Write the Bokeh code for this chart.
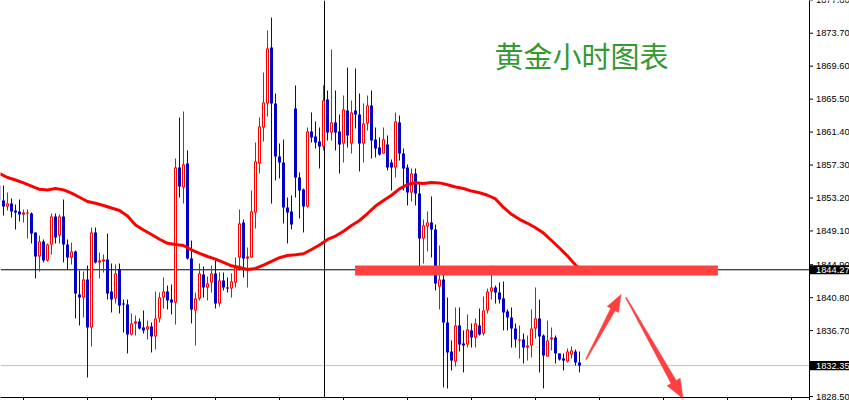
from bokeh.plotting import figure
from bokeh.models import ColumnDataSource, Label, Range1d
from bokeh.embed import file_html
from bokeh.resources import INLINE
from bokeh.core.properties import value

# ---------------- data ----------------
bar_index = list(range(-1, 145))

opens = [
    1854.75, 1852.89, 1852.14, 1852.51, 1851.65, 1851.52, 1851.15, 1851.27, 1851.27, 1848.91,
    1845.92, 1847.79, 1845.42, 1847.41, 1850.90, 1848.53, 1850.90, 1847.41, 1845.80, 1846.54,
    1841.20, 1840.82, 1843.06, 1837.09, 1848.91, 1845.18, 1845.30, 1845.55, 1841.57, 1840.70,
    1844.30, 1840.07, 1839.95, 1836.22, 1837.59, 1837.84, 1837.09, 1836.84, 1837.21, 1835.97,
    1838.21, 1840.82, 1841.57, 1840.57, 1840.20, 1856.99, 1854.51, 1857.49, 1845.67, 1839.20,
    1840.70, 1843.68, 1842.07, 1842.69, 1843.81, 1840.07, 1842.94, 1842.07, 1841.94, 1842.69,
    1845.80, 1850.15, 1845.67, 1845.80, 1851.40, 1857.49, 1861.97, 1864.96, 1871.92, 1864.96,
    1858.36, 1857.62, 1852.02, 1851.52, 1864.33, 1855.75, 1854.26, 1852.14, 1861.47, 1860.85,
    1860.23, 1859.61, 1865.45, 1861.35, 1862.59, 1861.47, 1859.98, 1864.09, 1859.98, 1864.09,
    1863.59, 1859.98, 1862.47, 1864.71, 1860.48, 1859.48, 1858.74, 1859.86, 1857.62, 1856.99,
    1862.59, 1858.74, 1856.99, 1853.88, 1856.25, 1853.76, 1848.16, 1849.65, 1850.15, 1849.28,
    1842.19, 1843.06, 1837.71, 1834.10, 1832.86, 1837.34, 1835.10, 1834.97, 1836.72, 1835.84,
    1837.34, 1836.34, 1839.20, 1841.57, 1842.07, 1841.44, 1840.70, 1839.08, 1838.33, 1836.96,
    1835.47, 1835.60, 1834.60, 1834.85, 1836.96, 1838.21, 1836.09, 1833.48, 1835.60, 1835.84,
    1833.86, 1833.23, 1832.86, 1833.73, 1834.10, 1832.73,
]
highs = [
    1856.25, 1854.75, 1853.88, 1853.14, 1852.39, 1853.01, 1851.77, 1851.77, 1851.40, 1848.91,
    1848.53, 1848.04, 1847.54, 1851.27, 1851.27, 1851.15, 1853.01, 1848.04, 1847.66, 1846.67,
    1844.18, 1844.06, 1844.80, 1849.53, 1849.53, 1846.42, 1846.17, 1848.78, 1845.05, 1844.93,
    1845.05, 1840.57, 1840.57, 1838.83, 1838.58, 1838.21, 1839.20, 1837.96, 1837.71, 1841.57,
    1841.44, 1843.31, 1842.31, 1842.44, 1858.11, 1863.21, 1863.96, 1859.11, 1847.91, 1841.44,
    1845.05, 1844.68, 1843.43, 1844.80, 1845.42, 1843.93, 1843.93, 1843.31, 1843.81, 1845.80,
    1851.77, 1850.52, 1847.04, 1854.13, 1860.10, 1863.21, 1868.81, 1874.04, 1875.65, 1866.20,
    1859.98, 1860.48, 1853.26, 1853.51, 1867.20, 1856.37, 1854.38, 1861.97, 1863.84, 1862.72,
    1861.97, 1867.20, 1866.57, 1871.67, 1866.57, 1863.59, 1865.95, 1869.43, 1865.33, 1869.31,
    1866.20, 1864.96, 1865.95, 1866.57, 1861.97, 1860.73, 1861.97, 1860.97, 1857.99, 1863.84,
    1863.46, 1859.36, 1857.37, 1856.87, 1856.87, 1855.00, 1850.52, 1851.52, 1853.39, 1849.90,
    1847.29, 1843.93, 1840.82, 1835.47, 1839.58, 1839.58, 1836.72, 1838.71, 1837.59, 1838.21,
    1839.45, 1840.95, 1841.94, 1844.80, 1842.31, 1842.69, 1842.81, 1839.33, 1839.58, 1837.59,
    1837.34, 1836.34, 1836.09, 1839.33, 1842.07, 1840.57, 1836.22, 1837.96, 1837.09, 1836.09,
    1833.86, 1833.86, 1834.48, 1834.73, 1834.35, 1834.10,
]
lows = [
    1852.27, 1851.02, 1851.65, 1850.77, 1849.28, 1850.28, 1850.15, 1848.16, 1847.54, 1843.19,
    1844.06, 1845.18, 1845.30, 1846.17, 1847.54, 1847.54, 1845.18, 1844.30, 1844.93, 1838.21,
    1837.34, 1838.33, 1830.87, 1834.73, 1845.05, 1843.19, 1843.93, 1840.57, 1838.96, 1840.07,
    1838.83, 1836.47, 1833.86, 1836.09, 1836.09, 1836.84, 1836.34, 1835.60, 1833.98, 1834.35,
    1837.71, 1839.45, 1839.33, 1838.71, 1837.46, 1853.26, 1852.51, 1845.55, 1837.59, 1834.85,
    1840.45, 1840.82, 1840.45, 1841.44, 1839.45, 1839.70, 1841.69, 1841.44, 1840.82, 1842.07,
    1844.18, 1843.31, 1842.07, 1845.80, 1849.40, 1856.25, 1860.23, 1863.34, 1852.51, 1855.38,
    1855.63, 1850.03, 1847.54, 1849.28, 1853.26, 1850.65, 1848.91, 1852.02, 1860.10, 1859.36,
    1856.87, 1859.11, 1860.35, 1860.35, 1859.11, 1856.25, 1857.62, 1859.48, 1858.74, 1861.85,
    1856.50, 1857.62, 1861.60, 1858.11, 1858.24, 1858.49, 1858.74, 1856.62, 1854.13, 1855.75,
    1857.86, 1854.13, 1852.27, 1852.76, 1852.27, 1844.55, 1845.05, 1846.54, 1845.80, 1841.69,
    1839.33, 1829.63, 1829.50, 1831.74, 1832.24, 1834.10, 1831.49, 1834.60, 1834.60, 1834.60,
    1836.09, 1836.09, 1838.83, 1840.57, 1840.07, 1840.07, 1836.72, 1836.72, 1834.60, 1834.60,
    1833.23, 1832.61, 1832.98, 1833.36, 1835.72, 1831.49, 1829.50, 1833.48, 1834.23, 1832.61,
    1832.98, 1831.74, 1832.73, 1833.23, 1832.36, 1831.49,
]
closes = [
    1852.89, 1852.14, 1852.51, 1851.52, 1851.40, 1851.15, 1851.40, 1851.40, 1848.78, 1845.92,
    1847.79, 1845.42, 1847.41, 1850.90, 1848.29, 1850.90, 1847.41, 1845.80, 1846.54, 1841.32,
    1840.82, 1843.06, 1837.09, 1848.91, 1845.18, 1845.42, 1845.55, 1841.32, 1840.57, 1843.81,
    1839.83, 1839.95, 1836.22, 1837.59, 1837.84, 1836.96, 1836.72, 1837.21, 1835.97, 1838.21,
    1840.82, 1841.57, 1840.45, 1840.20, 1856.99, 1854.63, 1857.37, 1845.67, 1839.33, 1840.70,
    1843.81, 1842.07, 1842.56, 1843.81, 1840.07, 1842.94, 1842.07, 1841.94, 1842.81, 1844.55,
    1850.03, 1845.67, 1845.92, 1851.52, 1857.74, 1862.09, 1865.08, 1871.80, 1864.96, 1858.36,
    1857.62, 1852.02, 1851.40, 1849.90, 1855.75, 1854.13, 1852.14, 1861.47, 1860.73, 1860.10,
    1859.61, 1865.33, 1861.35, 1862.59, 1861.35, 1859.86, 1864.21, 1860.97, 1863.84, 1863.59,
    1859.98, 1862.47, 1864.71, 1860.35, 1859.36, 1858.61, 1860.48, 1856.99, 1856.99, 1862.72,
    1858.74, 1856.87, 1853.88, 1856.25, 1853.76, 1848.16, 1849.78, 1850.15, 1849.28, 1842.56,
    1843.06, 1837.71, 1833.98, 1832.98, 1837.34, 1834.97, 1834.85, 1836.84, 1835.84, 1837.59,
    1836.22, 1839.20, 1841.57, 1842.07, 1841.44, 1840.57, 1838.96, 1838.33, 1836.96, 1835.60,
    1835.60, 1834.60, 1834.85, 1836.96, 1838.21, 1835.97, 1833.61, 1835.47, 1835.84, 1833.86,
    1833.11, 1832.98, 1834.10, 1834.23, 1832.73, 1832.35,
]

ma_index = list(range(-1, 144, 2)) + [144]
ma_values = [
    1856.25, 1855.75, 1855.44, 1855.08, 1854.68, 1854.28, 1854.19, 1854.38, 1854.21, 1853.80,
    1853.29, 1852.76, 1852.55, 1852.27, 1851.96, 1851.65, 1850.96, 1849.85, 1849.22, 1848.66,
    1848.07, 1847.56, 1847.41, 1847.29, 1846.75, 1846.32, 1845.92, 1845.59, 1845.20, 1844.76,
    1844.55, 1844.30, 1844.43, 1844.86, 1845.32, 1845.77, 1846.05, 1846.15, 1846.26, 1846.79,
    1847.36, 1848.04, 1848.47, 1849.07, 1849.78, 1850.40, 1851.27, 1852.20, 1852.90, 1853.54,
    1854.33, 1854.88, 1855.10, 1855.00, 1855.13, 1855.08, 1854.84, 1854.57, 1854.38, 1854.06,
    1853.85, 1853.54, 1853.08, 1852.02, 1851.17, 1850.55, 1850.05, 1849.49, 1848.83, 1847.91,
    1846.98, 1845.98, 1844.85, 1844.50,
]

price_ticks = [1828.50, 1836.70, 1840.80, 1844.90, 1849.10, 1853.20, 1857.30,
               1861.40, 1865.50, 1869.60, 1873.70, 1877.80]
time_ticks = [5, 21, 37, 53, 69, 85, 101, 117, 133, 149, 165, 181, 197]
cross_price = 1844.27
last_price = 1832.35
cross_bar = 80.25
resistance_price = 1844.18
resistance_from, resistance_to = 87.9, 178.6
title_text = "黄金小时图表"

# ---------------- geometry ----------------
W, H = 849, 400
AXIS_PX = 809.0       # right price scale line (pixels from left)
BASE_PY = 397.0       # bottom time scale line (pixels from top)
LABEL_PX = 815.5      # left edge of the price labels
PXU = 4.0             # pixels per bar
PPY = 8.038           # pixels per price unit
X0 = -0.75
Y_TOP = 1877.77


def px2x(px):
    return X0 + px / PXU


def py2y(py):
    return Y_TOP - py / PPY


RED = "#ff0000"
BLUE = "#0000c8"
MARK = "#ff4040"
FONT = "Liberation Sans"
LABEL_SIZE = "9.3px"

p = figure(width=W, height=H,
           x_range=Range1d(X0, X0 + W / PXU),
           y_range=Range1d(Y_TOP - H / PPY, Y_TOP),
           output_backend="svg", toolbar_location=None,
           x_axis_location=None, y_axis_location=None,
           min_border=0, outline_line_color=None,
           background_fill_color="white", border_fill_color="white")
p.grid.visible = False

# reference lines (crosshair and last price)
x_axis_end = px2x(AXIS_PX)
p.segment(x0=[X0], y0=[last_price], x1=[x_axis_end], y1=[last_price],
          line_color="#c0c0c0", line_width=1)
p.segment(x0=[X0], y0=[cross_price], x1=[x_axis_end], y1=[cross_price],
          line_color="black", line_width=1)
p.segment(x0=[cross_bar], y0=[py2y(0)], x1=[cross_bar], y1=[py2y(BASE_PY)],
          line_color="black", line_width=1)

# candles
PX1 = 1.0 / PPY
up = dict(x=[], h=[], l=[], top=[], bot=[], itop=[], ibot=[])
dn = dict(x=[], h=[], l=[], top=[], bot=[])
for i, o, h, l, c in zip(bar_index, opens, highs, lows, closes):
    top, bot = max(o, c), min(o, c)
    if top - bot < PX1:
        bot = top - PX1
    if c >= o:
        up["x"].append(i); up["h"].append(h); up["l"].append(l)
        up["top"].append(top); up["bot"].append(bot)
        if top - bot > 2 * PX1:
            up["itop"].append(top - PX1); up["ibot"].append(bot + PX1)
        else:
            up["itop"].append(top); up["ibot"].append(top)
    else:
        dn["x"].append(i); dn["h"].append(h); dn["l"].append(l)
        dn["top"].append(top); dn["bot"].append(bot)
src_up = ColumnDataSource(up)
src_dn = ColumnDataSource(dn)

p.segment(x0="x", y0="h", x1="x", y1="l", source=src_up, line_color=RED, line_width=1)
p.segment(x0="x", y0="h", x1="x", y1="l", source=src_dn, line_color=BLUE, line_width=1)
p.vbar(x="x", top="top", bottom="bot", width=0.75, source=src_up,
       fill_color=RED, line_color=None)
p.vbar(x="x", top="itop", bottom="ibot", width=0.25, source=src_up,
       fill_color="white", line_color=None)
p.vbar(x="x", top="top", bottom="bot", width=0.75, source=src_dn,
       fill_color=BLUE, line_color=None)

# moving average
p.line(ma_index, ma_values, line_color=RED, line_width=3)

# resistance bar
p.segment(x0=[resistance_from], y0=[resistance_price], x1=[resistance_to],
          y1=[resistance_price], line_color=MARK, line_width=10, line_cap="butt")


# arrows (drawn in pixel space, converted to data space)
def arrow(tail, tip, w0, w1, head_len, head_w):
    import math
    (x0, y0), (x1, y1) = tail, tip
    L = math.hypot(x1 - x0, y1 - y0)
    dx, dy = (x1 - x0) / L, (y1 - y0) / L
    nx, ny = -dy, dx
    bx, by = x1 - dx * head_len, y1 - dy * head_len
    pts = [
        (x0 + nx * w0, y0 + ny * w0),
        (bx + nx * w1, by + ny * w1),
        (bx + nx * head_w, by + ny * head_w),
        (x1, y1),
        (bx - nx * head_w, by - ny * head_w),
        (bx - nx * w1, by - ny * w1),
        (x0 - nx * w0, y0 - ny * w0),
    ]
    return [px2x(a) for a, b in pts], [py2y(b) for a, b in pts]


ax, ay = arrow((585.5, 359), (620.5, 294), 0.5, 2.5, 17, 6.5)
p.patch(ax, ay, fill_color=MARK, line_color=MARK, line_width=0.5)
ax, ay = arrow((625.5, 297), (682.5, 398), 0.5, 3.0, 19, 7.5)
p.patch(ax, ay, fill_color=MARK, line_color=MARK, line_width=0.5)

# title
p.add_layout(Label(x=px2x(581), y=py2y(54), text=title_text,
                   text_font="Noto Sans CJK SC", text_font_size="29px",
                   text_color="#349934", text_align="center",
                   text_baseline="middle"))

# ---------------- price scale (right) and time scale (bottom) ----------------
p.segment(x0=[x_axis_end], y0=[py2y(-1)], x1=[x_axis_end], y1=[py2y(H + 1)],
          line_color="black", line_width=1)
p.segment(x0=[X0 - 1], y0=[py2y(BASE_PY)], x1=[x_axis_end], y1=[py2y(BASE_PY)],
          line_color="black", line_width=1)
p.segment(x0=[x_axis_end] * len(price_ticks), y0=price_ticks,
          x1=[px2x(AXIS_PX + 3.5)] * len(price_ticks), y1=price_ticks,
          line_color="black", line_width=1)
p.text(x=[px2x(LABEL_PX)] * len(price_ticks), y=price_ticks,
       text=["%.2f" % t for t in price_ticks],
       text_font=value(FONT), text_font_size=LABEL_SIZE, text_color="black",
       text_align="left", text_baseline="middle")
p.segment(x0=time_ticks, y0=[py2y(BASE_PY)] * len(time_ticks),
          x1=time_ticks, y1=[py2y(H + 1)] * len(time_ticks),
          line_color="black", line_width=1)

# price boxes
box_prices = [cross_price, last_price]
p.quad(left=[px2x(AXIS_PX + 0.5)] * 2, right=[px2x(W + 1)] * 2,
       top=[b + 4.6 / PPY for b in box_prices],
       bottom=[b - 4.6 / PPY for b in box_prices],
       fill_color="black", line_color=None)
p.text(x=[px2x(LABEL_PX)] * 2, y=box_prices, text=["%.2f" % b for b in box_prices],
       text_font=value(FONT), text_font_size=LABEL_SIZE, text_color="white",
       text_align="left", text_baseline="middle")

open("out.html", "w").write(file_html(p, INLINE))
